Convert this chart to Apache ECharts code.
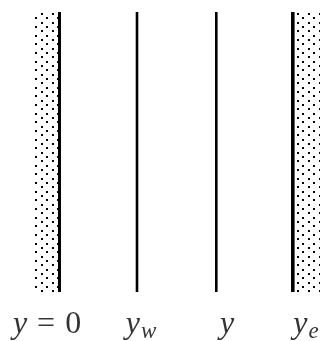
<!DOCTYPE html>
<html><head><meta charset="utf-8">
<script src="https://cdn.jsdelivr.net/npm/echarts@6/dist/echarts.min.js"></script>
<style>html,body{margin:0;padding:0;background:#fff}#c{width:320px;height:341px}</style>
</head><body><div id="c"></div>
<script>
// boundary positions (axis units) and their labels
const boundaryX = [59.5, 137, 216.3, 292.8];
const boundaryLabel = ['{yi|y}{op|=}{n|0}', '{yi|y}{sub|w}', '{yi|y}', '{yi|y}{sub|e}'];
const labelX = [47, 141, 227, 306];
// solid (wall) regions drawn with a dotted fill
const wallRegions = [[32, 58], [294.5, 320]];

const lineWidths = [3, 2.6, 2.6, 3.6];
const lineTop = 12, lineBottom = 292, labelY = 325;
const wallPhase = [[8, 13], [297, 13]];

function makeTile() {
  const c = document.createElement('canvas');
  c.width = 11; c.height = 26;
  const g = c.getContext('2d');
  g.fillStyle = '#000';
  [0, 4, 9, 13, 17, 22].forEach((y, i) => g.fillRect(i % 2 ? 5 : 0, y, 2, 2));
  return c;
}
const tile = makeTile();

const chart = echarts.init(document.getElementById('c'), null, {renderer: 'canvas'});
chart.setOption({
  animation: false,
  backgroundColor: '#fff',
  grid: {left: 0, right: 0, top: 0, bottom: 0},
  xAxis: {type: 'value', min: 0, max: 320, show: false},
  yAxis: {type: 'value', min: 0, max: 341, inverse: true, show: false},
  series: [
    {
      type: 'custom',
      data: wallRegions.map((r, i) => [r[0], r[1], i]),
      renderItem: function (params, api) {
        const a = api.coord([api.value(0), lineTop]);
        const b = api.coord([api.value(1), lineBottom]);
        const ph = wallPhase[api.value(2)];
        return {
          type: 'rect',
          shape: {x: a[0], y: a[1], width: b[0] - a[0], height: b[1] - a[1]},
          style: {fill: {image: tile, repeat: 'repeat', x: ph[0], y: ph[1]}}
        };
      }
    },
    {
      type: 'custom',
      data: boundaryX.map((x, i) => [x, i]),
      renderItem: function (params, api) {
        const a = api.coord([api.value(0), lineTop]);
        const b = api.coord([api.value(0), lineBottom]);
        return {
          type: 'line',
          shape: {x1: a[0], y1: a[1], x2: b[0], y2: b[1]},
          style: {stroke: '#000', lineWidth: lineWidths[api.value(1)]}
        };
      }
    },
    {
      type: 'scatter',
      symbolSize: 0,
      data: labelX.map((x, i) => ({value: [x, labelY], label: {formatter: boundaryLabel[i]}})),
      label: {
        show: true,
        position: 'inside',
        color: '#000',
        rich: {
          yi: {fontFamily: 'Liberation Serif', fontStyle: 'italic', fontSize: 32, color: '#000'},
          op: {fontFamily: 'Liberation Serif', fontSize: 32, padding: [0, 10], color: '#000'},
          n: {fontFamily: 'Liberation Serif', fontSize: 32, color: '#000'},
          sub: {fontFamily: 'Liberation Serif', fontStyle: 'italic', fontSize: 23, color: '#000', padding: [13, 0, 0, 1]}
        }
      }
    }
  ]
});
</script>
</body></html>
